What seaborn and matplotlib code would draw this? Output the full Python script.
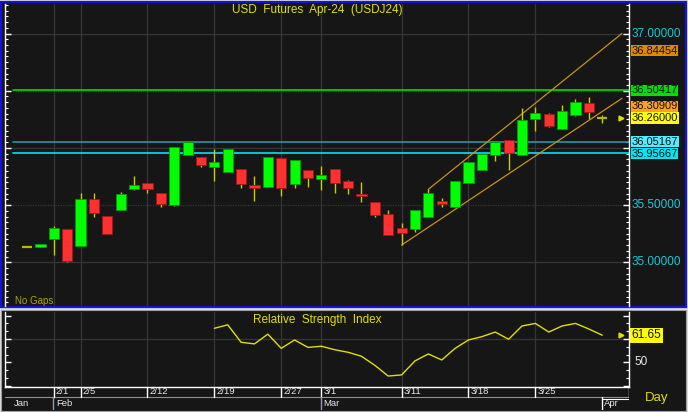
import numpy as np
import pandas as pd
import seaborn as sns
import matplotlib.pyplot as plt
import matplotlib.transforms as mtransforms
from matplotlib.patches import Rectangle
from matplotlib.ticker import MultipleLocator

# Daily candles, USD futures Apr-24 (USDJ24)
sessions = ['1/30', '1/31', '2/1', '2/2', '2/5', '2/6', '2/7', '2/8', '2/9',
            '2/12', '2/13', '2/14', '2/15', '2/16', '2/20', '2/21', '2/22',
            '2/23', '2/26', '2/27', '2/28', '2/29', '3/1', '3/4', '3/5', '3/6',
            '3/7', '3/8', '3/11', '3/12', '3/13', '3/14', '3/15', '3/18',
            '3/19', '3/20', '3/21', '3/22', '3/25', '3/26', '3/27', '3/28',
            '3/29', '4/1']
opens = [35.136, 35.131, 35.204, 35.288, 35.145, 35.553, 35.405, 35.455, 35.641,
         35.690, 35.606, 35.503, 35.940, 35.923, 35.830, 35.789, 35.816, 35.673,
         35.661, 35.909, 35.682, 35.807, 35.731, 35.816, 35.708, 35.597, 35.524,
         35.422, 35.302, 35.291, 35.399, 35.538, 35.486, 35.696, 35.807, 35.940,
         36.066, 35.940, 36.255, 36.294, 36.168, 36.290, 36.392, 36.260]
highs = [35.140, 35.157, 35.317, 35.290, 35.606, 35.606, 35.405, 35.614, 35.754,
         35.690, 35.606, 36.008, 36.054, 35.923, 35.990, 35.990, 35.816, 35.754,
         35.918, 35.909, 35.892, 35.807, 35.842, 35.816, 35.722, 35.702, 35.524,
         35.457, 35.346, 35.455, 35.638, 35.565, 35.713, 35.874, 35.947, 36.054,
         36.066, 36.346, 36.360, 36.308, 36.375, 36.425, 36.442, 36.288]
lows = [35.132, 35.131, 35.064, 35.005, 35.145, 35.399, 35.250, 35.455, 35.632,
        35.608, 35.481, 35.495, 35.940, 35.836, 35.713, 35.789, 35.647, 35.536,
        35.661, 35.580, 35.647, 35.661, 35.632, 35.608, 35.594, 35.527, 35.399,
        35.239, 35.151, 35.267, 35.399, 35.481, 35.486, 35.696, 35.807, 35.888,
        35.807, 35.940, 36.150, 36.183, 36.168, 36.281, 36.250, 36.220]
closes = [35.136, 35.157, 35.297, 35.014, 35.553, 35.431, 35.250, 35.597, 35.673,
          35.638, 35.512, 36.008, 36.054, 35.848, 35.877, 35.990, 35.682, 35.647,
          35.918, 35.647, 35.892, 35.740, 35.766, 35.690, 35.647, 35.582, 35.413,
          35.239, 35.259, 35.455, 35.603, 35.507, 35.713, 35.874, 35.947, 36.054,
          35.953, 36.243, 36.308, 36.191, 36.323, 36.399, 36.316, 36.260]

# Relative Strength Index, first value on 2/20
rsi_start = '2/20'
rsi_vals = [64.6, 66.1, 58.6, 57.9, 62.1, 56.0, 59.6, 56.4, 56.9, 55.4, 54.3,
            52.6, 48.7, 44.1, 44.6, 50.6, 53.6, 51.0, 56.0, 59.6, 61.0, 63.0,
            59.9, 65.6, 66.7, 63.0, 65.6, 66.7, 64.3, 61.65]

tick_sessions = ['2/1', '2/5', '2/12', '2/20', '2/27', '3/1', '3/11', '3/18', '3/25']
tick_labels = ['2/1', '2/5', '2/12', '2/19', '2/27', '3/1', '3/11', '3/18', '3/25']
month_sessions = ['2/1', '3/1', '4/1']
month_labels = ['Feb', 'Mar', 'Apr']

levels = [36.50417, 36.05167, 35.95667]
level_colors = ['#00dd00', '#1a9aa8', '#00e5f5']

# trend channel end points (session position, price)
channel_upper_x = [30.0, 44.47]
channel_upper_y = [35.638, 37.0]
channel_lower_x = [28.0, 44.47]
channel_lower_y = [35.151, 36.433]

tag_text = ['36.84454', '36.50417', '36.30909', '36.26000', '36.05167', '35.95667']
tag_y = [36.85, 36.50417, 36.362, 36.262, 36.056, 35.949]
tag_bg = ['#dd8a00', '#00e000', '#ffa020', '#ffff00', '#50ecff', '#00e5f5']
axis_prices = [37.0, 35.5, 35.0]

BG = '#161616'
GRID = '#363636'
YEL = '#e0e000'
W, H = 688, 412

sns.set_style('dark')
plt.rcParams['font.family'] = ['Liberation Sans', 'DejaVu Sans']


def px_rect(x0, y0, x1, y1):
    return [x0 / W, 1 - y1 / H, (x1 - x0) / W, (y1 - y0) / H]


fig = plt.figure(figsize=(W / 100, H / 100), dpi=100, facecolor='#dcdcdc')

# panel frames
bg = fig.add_axes([0, 0, 1, 1], zorder=-5)
bg.set_xlim(0, W)
bg.set_ylim(H, 0)
bg.axis('off')
bg.add_patch(Rectangle((1, 2), 685, 305, facecolor=BG, edgecolor='#1414d0', lw=1.6))
bg.add_patch(Rectangle((1, 310), 685, 101, facecolor=BG, edgecolor='#a0a0a0', lw=0.8))

df = pd.DataFrame({'date': sessions, 'open': opens, 'high': highs,
                   'low': lows, 'close': closes})
df['pos'] = np.arange(len(df))
pos_of = dict(zip(df['date'], df['pos']))
xlim = (-1.65, 45.0)

ax = fig.add_axes(px_rect(5, 4, 629, 306), facecolor=BG)
ax.set_xlim(*xlim)
ax.set_ylim(34.618, 37.258)

for t in tick_sessions:
    ax.axvline(pos_of[t], color=GRID, lw=0.9, zorder=0)
for p in [35.0, 36.0, 37.0]:
    ax.axhline(p, color=GRID, lw=0.9, zorder=0)
for p in [35.5, 36.5]:
    ax.axhline(p, color=GRID, lw=0.9, ls=(0, (1, 1)), zorder=0)

for lv, lc in zip(levels, level_colors):
    ax.axhline(lv, xmin=0.013, xmax=1, color=lc, lw=1.2, zorder=1)

ax.plot(channel_upper_x, channel_upper_y, color='#c8901c', lw=0.9, zorder=2)
ax.plot(channel_lower_x, channel_lower_y, color='#c8901c', lw=0.9, zorder=2)

# candles
up = df['close'] >= df['open']
flat = (df['close'] - df['open']).abs() < 0.002
ax.vlines(df['pos'], df['low'], df['high'], color='#cccc00', lw=1, zorder=3)
body_lo = df[['open', 'close']].min(axis=1)
body_h = (df['close'] - df['open']).abs()
colors = np.where(up, '#00ff00', '#ff3030')
edges = np.where(up, '#009a00', '#a01818')
real = ~flat
ax.bar(df['pos'][real], body_h[real], bottom=body_lo[real], width=0.76,
       color=colors[real], edgecolor=edges[real], lw=0.6, zorder=4)
ax.hlines(df['close'][flat], df['pos'][flat] - 0.38, df['pos'][flat] + 0.38,
          color='#b8b800', lw=1.6, zorder=4)

last = df.iloc[-1]
ax.plot(last['pos'] + 1.4, last['close'], marker='>', ms=3.5, color=YEL,
        clip_on=False, zorder=5)

for side in ['left', 'right']:
    ax.spines[side].set_color('white')
    ax.spines[side].set_linewidth(1)
for side in ['top', 'bottom']:
    ax.spines[side].set_visible(False)
ax.yaxis.set_major_locator(MultipleLocator(0.5))
ax.yaxis.set_minor_locator(MultipleLocator(0.05))
ax.tick_params(axis='y', which='both', left=True, right=True, direction='in',
               colors='white', labelleft=False, labelright=False)
ax.tick_params(axis='y', which='major', length=4, width=1)
ax.tick_params(axis='y', which='minor', length=2.5, width=0.8)
ax.tick_params(axis='x', bottom=False, labelbottom=False)

tr = mtransforms.blended_transform_factory(ax.transAxes, ax.transData)
for p in axis_prices:
    ax.text(1.004, p, f'{p:.5f}', transform=tr, ha='left', va='center',
            color='#18c8d8', fontsize=8.5)
for txt, y, c in zip(tag_text, tag_y, tag_bg):
    ax.text(1.004, y, txt, transform=tr, ha='left', va='center', color='#101010',
            fontsize=8, bbox=dict(boxstyle='square,pad=0.06', fc=c, ec='none'))

ax.text(0.5, 1 - 6 / 302, 'USD  Futures  Apr-24  (USDJ24)', transform=ax.transAxes,
        ha='center', va='center', color=YEL, fontsize=8.5)
ax.text(0.016, 5 / 302, 'No Gaps', transform=ax.transAxes, ha='left',
        va='center', color='#a8a800', fontsize=7)

# RSI panel
ax2 = fig.add_axes(px_rect(5, 312, 629, 387), facecolor=BG)
ax2.set_xlim(*xlim)
ax2.set_ylim(39.4, 71.6)
for t in tick_sessions:
    ax2.axvline(pos_of[t], color=GRID, lw=0.9, zorder=0)
ax2.axhline(60, color=GRID, lw=0.9, zorder=0)
rsi_df = pd.DataFrame({'pos': np.arange(len(rsi_vals)) + pos_of[rsi_start],
                       'rsi': rsi_vals})
sns.lineplot(data=rsi_df, x='pos', y='rsi', ax=ax2, color=YEL, lw=1)
ax2.plot(rsi_df['pos'].iloc[-1] + 1.4, rsi_vals[-1], marker='>', ms=3.5,
         color=YEL, clip_on=False)
ax2.set_xlabel('')
ax2.set_ylabel('')
for side in ['left', 'right', 'bottom']:
    ax2.spines[side].set_color('white')
    ax2.spines[side].set_linewidth(1)
ax2.spines['top'].set_visible(False)
ax2.yaxis.set_major_locator(MultipleLocator(10))
ax2.yaxis.set_minor_locator(MultipleLocator(10 / 3))
ax2.tick_params(axis='y', which='both', left=True, right=True, direction='in',
                colors='white', labelleft=False, labelright=False)
ax2.tick_params(axis='y', which='major', length=4, width=1)
ax2.tick_params(axis='y', which='minor', length=2.5, width=0.8)
ax2.tick_params(axis='x', bottom=False, labelbottom=False)
tr2 = mtransforms.blended_transform_factory(ax2.transAxes, ax2.transData)
ax2.text(1.008, 50, '50', transform=tr2, ha='left', va='center',
         color='#e8e8e8', fontsize=8.5)
ax2.text(1.004, rsi_vals[-1], f'{rsi_vals[-1]:.2f}', transform=tr2, ha='left',
         va='center', color='#101010', fontsize=8.5,
         bbox=dict(boxstyle='square,pad=0.12', fc='#ffff00', ec='none'))
ax2.text(0.5, 1 - 8 / 75, 'Relative  Strength  Index', transform=ax2.transAxes,
         ha='center', va='center', color=YEL, fontsize=8.5)

# date rows
ax3 = fig.add_axes(px_rect(5, 387, 629, 410), facecolor=BG)
ax3.set_xlim(*xlim)
ax3.set_ylim(0, 1)
ax3.axis('off')
split = 1 - 10 / 23
ax3.axhline(split, color='#909090', lw=0.8)
ax3.plot([xlim[1], xlim[1]], [split, 1], color='white', lw=1)
for t, lab in zip(tick_sessions, tick_labels):
    x = pos_of[t]
    ax3.plot([x, x], [split, 1], color='white', lw=1)
    ax3.text(x + 0.15, (split + 1) / 2, lab, ha='left', va='center',
             color='#e8e8e8', fontsize=6.8)
ax3.text(-0.95, split / 2, 'Jan', ha='left', va='center', color='#e8e8e8',
         fontsize=6.8)
for t, lab in zip(month_sessions, month_labels):
    x = pos_of[t]
    sep_color = 'white' if lab == 'Apr' else '#8a9ac0'
    ax3.plot([x - 0.05, x - 0.05], [0, split], color=sep_color, lw=1)
    ax3.text(x + 0.15, split / 2, lab, ha='left', va='center', color='#e8e8e8',
             fontsize=6.8)
ax3.plot([pos_of['4/1'] - 0.05, xlim[1]], [split - 0.08, split - 0.08],
         color='white', lw=0.8)

fig.text(645 / W, 1 - 398 / H, 'Day', ha='left', va='center', color=YEL,
         fontsize=9.5)

fig.savefig('out.png', dpi=100, facecolor=fig.get_facecolor())
